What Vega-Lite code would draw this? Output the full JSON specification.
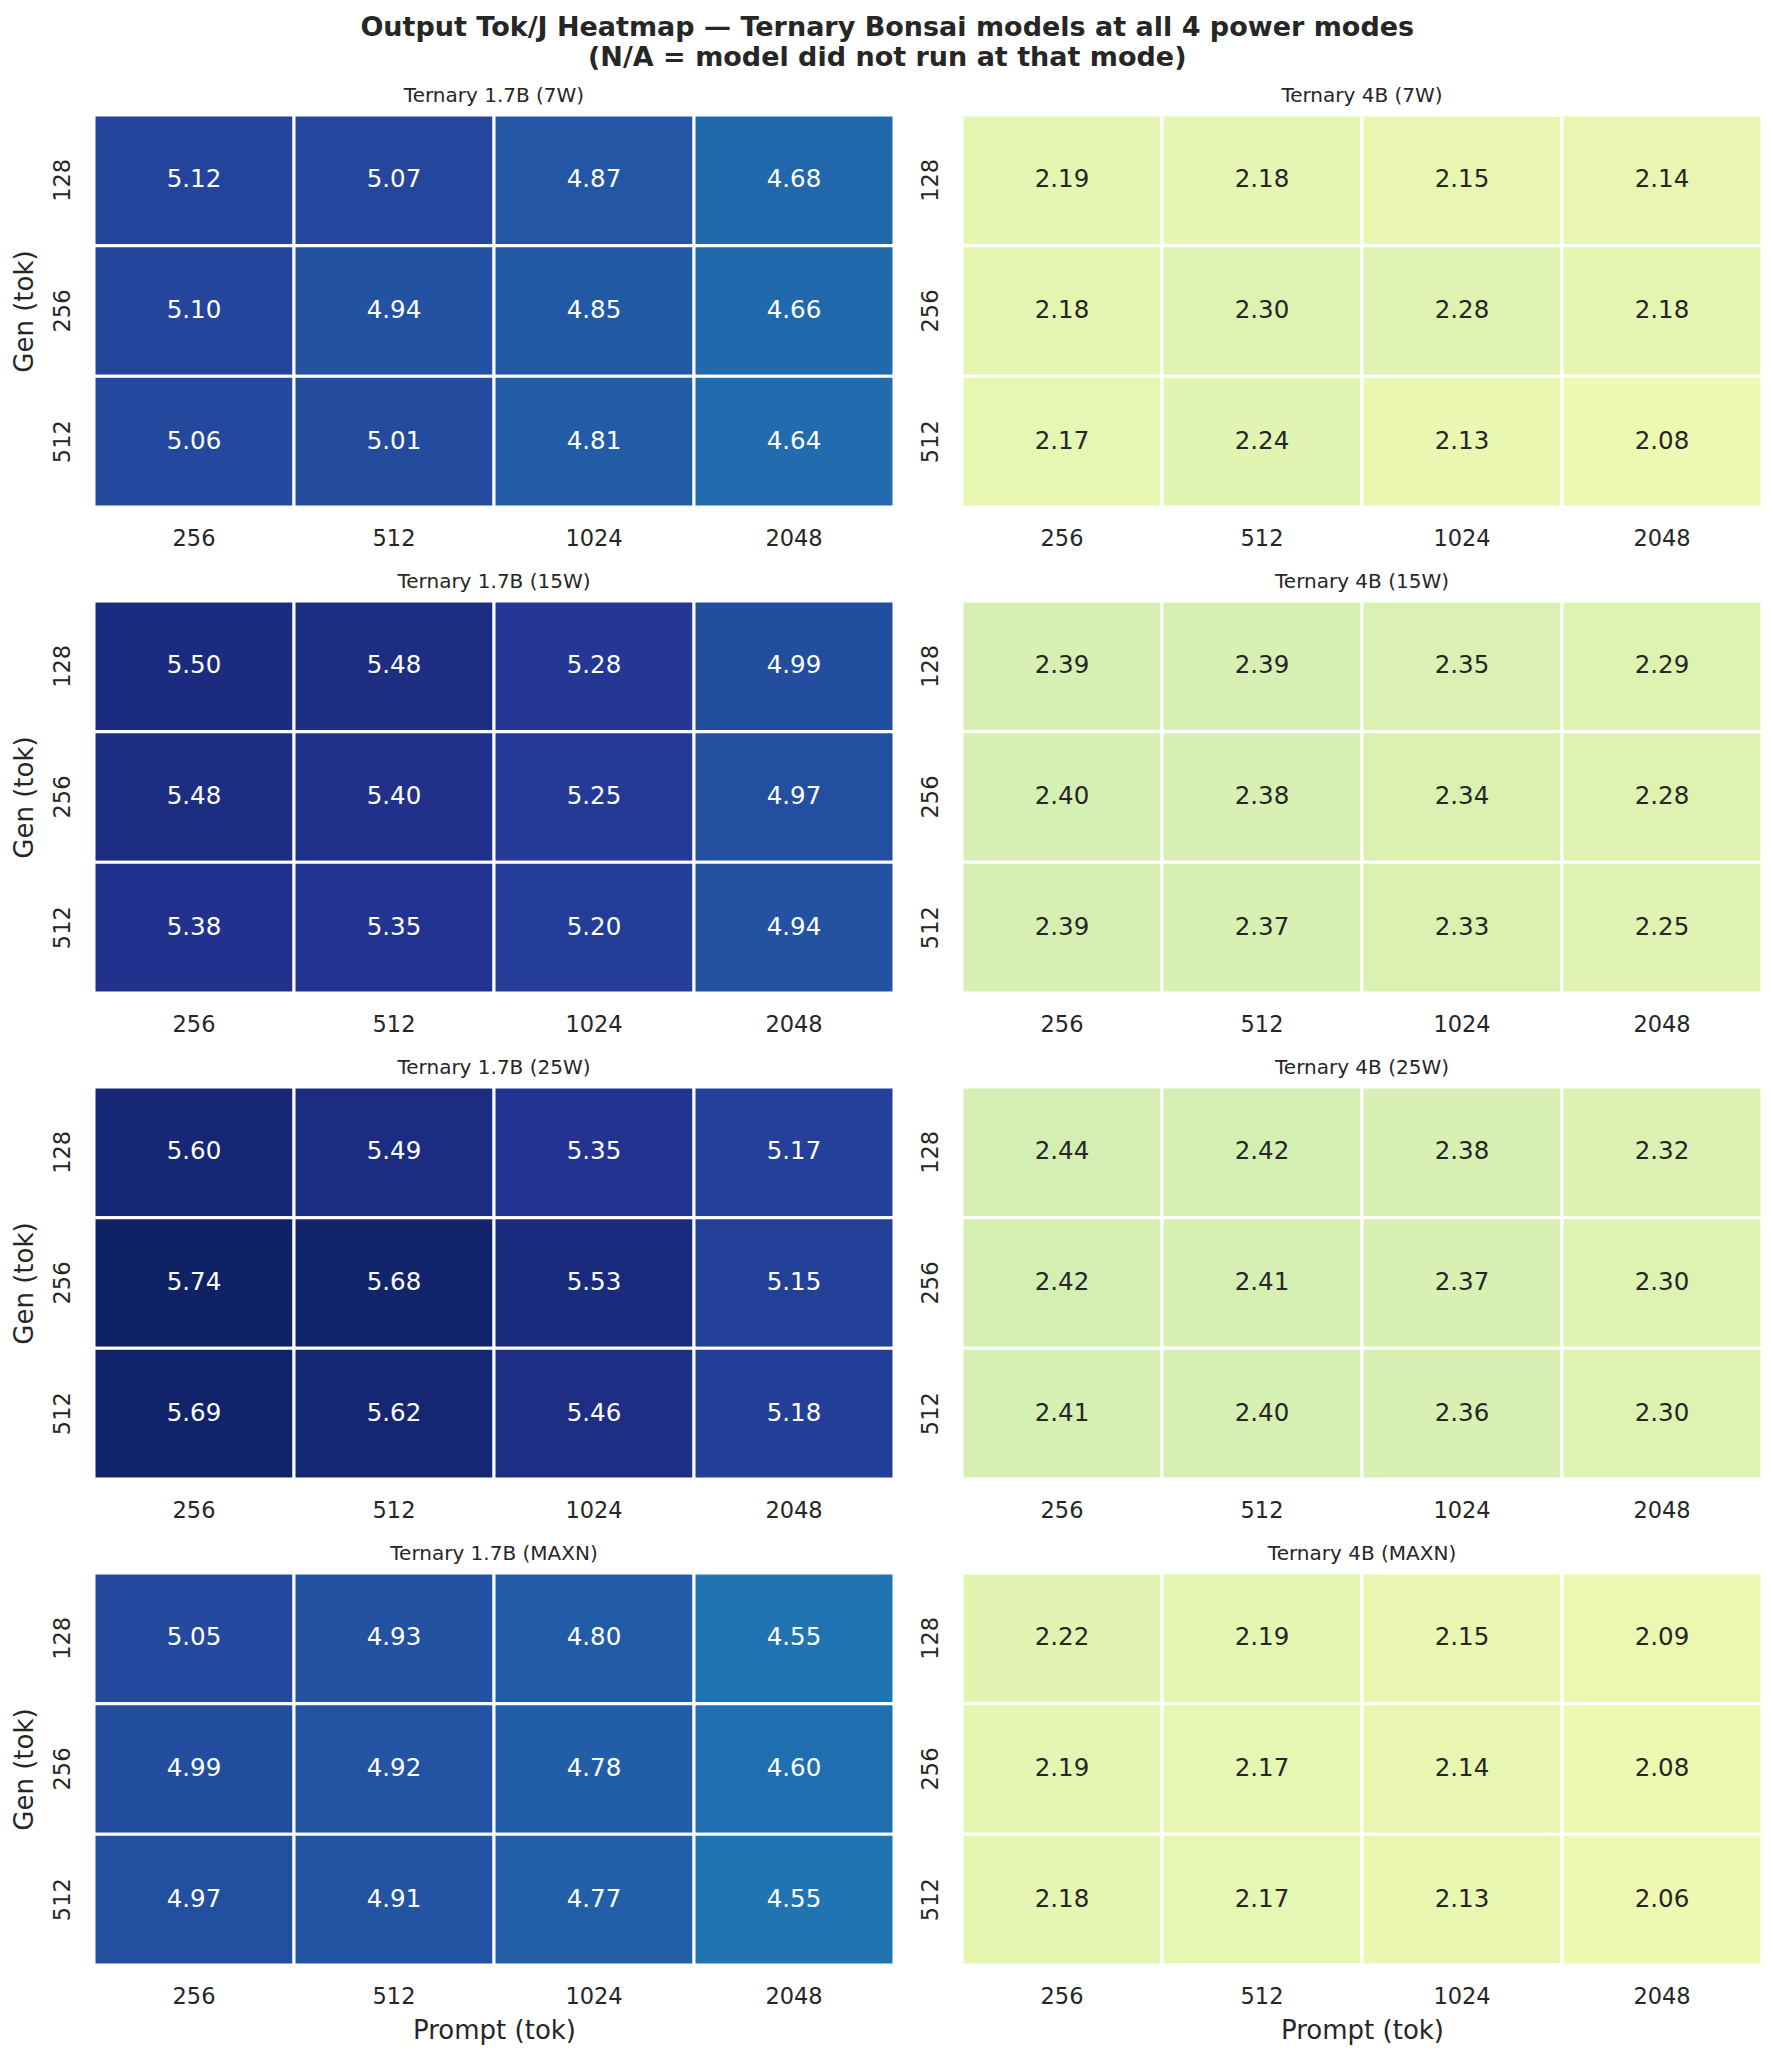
{
  "$schema": "https://vega.github.io/schema/vega-lite/v6.json",
  "background": "white",
  "padding": {"left": 11, "top": 13, "right": 10, "bottom": 10},
  "title": {
    "text": ["Output Tok/J Heatmap — Ternary Bonsai models at all 4 power modes", "(N/A = model did not run at that mode)"],
    "fontSize": 27,
    "fontWeight": "bold",
    "lineHeight": 30,
    "anchor": "middle",
    "offset": 14,
    "color": "#262626"
  },
  "data": {
    "values": [
      {"panel": "Ternary 1.7B (7W)", "gen": 128, "prompt": 256, "tpj": 5.12},
      {"panel": "Ternary 1.7B (7W)", "gen": 128, "prompt": 512, "tpj": 5.07},
      {"panel": "Ternary 1.7B (7W)", "gen": 128, "prompt": 1024, "tpj": 4.87},
      {"panel": "Ternary 1.7B (7W)", "gen": 128, "prompt": 2048, "tpj": 4.68},
      {"panel": "Ternary 1.7B (7W)", "gen": 256, "prompt": 256, "tpj": 5.10},
      {"panel": "Ternary 1.7B (7W)", "gen": 256, "prompt": 512, "tpj": 4.94},
      {"panel": "Ternary 1.7B (7W)", "gen": 256, "prompt": 1024, "tpj": 4.85},
      {"panel": "Ternary 1.7B (7W)", "gen": 256, "prompt": 2048, "tpj": 4.66},
      {"panel": "Ternary 1.7B (7W)", "gen": 512, "prompt": 256, "tpj": 5.06},
      {"panel": "Ternary 1.7B (7W)", "gen": 512, "prompt": 512, "tpj": 5.01},
      {"panel": "Ternary 1.7B (7W)", "gen": 512, "prompt": 1024, "tpj": 4.81},
      {"panel": "Ternary 1.7B (7W)", "gen": 512, "prompt": 2048, "tpj": 4.64},
      {"panel": "Ternary 4B (7W)", "gen": 128, "prompt": 256, "tpj": 2.19},
      {"panel": "Ternary 4B (7W)", "gen": 128, "prompt": 512, "tpj": 2.18},
      {"panel": "Ternary 4B (7W)", "gen": 128, "prompt": 1024, "tpj": 2.15},
      {"panel": "Ternary 4B (7W)", "gen": 128, "prompt": 2048, "tpj": 2.14},
      {"panel": "Ternary 4B (7W)", "gen": 256, "prompt": 256, "tpj": 2.18},
      {"panel": "Ternary 4B (7W)", "gen": 256, "prompt": 512, "tpj": 2.30},
      {"panel": "Ternary 4B (7W)", "gen": 256, "prompt": 1024, "tpj": 2.28},
      {"panel": "Ternary 4B (7W)", "gen": 256, "prompt": 2048, "tpj": 2.18},
      {"panel": "Ternary 4B (7W)", "gen": 512, "prompt": 256, "tpj": 2.17},
      {"panel": "Ternary 4B (7W)", "gen": 512, "prompt": 512, "tpj": 2.24},
      {"panel": "Ternary 4B (7W)", "gen": 512, "prompt": 1024, "tpj": 2.13},
      {"panel": "Ternary 4B (7W)", "gen": 512, "prompt": 2048, "tpj": 2.08},
      {"panel": "Ternary 1.7B (15W)", "gen": 128, "prompt": 256, "tpj": 5.50},
      {"panel": "Ternary 1.7B (15W)", "gen": 128, "prompt": 512, "tpj": 5.48},
      {"panel": "Ternary 1.7B (15W)", "gen": 128, "prompt": 1024, "tpj": 5.28},
      {"panel": "Ternary 1.7B (15W)", "gen": 128, "prompt": 2048, "tpj": 4.99},
      {"panel": "Ternary 1.7B (15W)", "gen": 256, "prompt": 256, "tpj": 5.48},
      {"panel": "Ternary 1.7B (15W)", "gen": 256, "prompt": 512, "tpj": 5.40},
      {"panel": "Ternary 1.7B (15W)", "gen": 256, "prompt": 1024, "tpj": 5.25},
      {"panel": "Ternary 1.7B (15W)", "gen": 256, "prompt": 2048, "tpj": 4.97},
      {"panel": "Ternary 1.7B (15W)", "gen": 512, "prompt": 256, "tpj": 5.38},
      {"panel": "Ternary 1.7B (15W)", "gen": 512, "prompt": 512, "tpj": 5.35},
      {"panel": "Ternary 1.7B (15W)", "gen": 512, "prompt": 1024, "tpj": 5.20},
      {"panel": "Ternary 1.7B (15W)", "gen": 512, "prompt": 2048, "tpj": 4.94},
      {"panel": "Ternary 4B (15W)", "gen": 128, "prompt": 256, "tpj": 2.39},
      {"panel": "Ternary 4B (15W)", "gen": 128, "prompt": 512, "tpj": 2.39},
      {"panel": "Ternary 4B (15W)", "gen": 128, "prompt": 1024, "tpj": 2.35},
      {"panel": "Ternary 4B (15W)", "gen": 128, "prompt": 2048, "tpj": 2.29},
      {"panel": "Ternary 4B (15W)", "gen": 256, "prompt": 256, "tpj": 2.40},
      {"panel": "Ternary 4B (15W)", "gen": 256, "prompt": 512, "tpj": 2.38},
      {"panel": "Ternary 4B (15W)", "gen": 256, "prompt": 1024, "tpj": 2.34},
      {"panel": "Ternary 4B (15W)", "gen": 256, "prompt": 2048, "tpj": 2.28},
      {"panel": "Ternary 4B (15W)", "gen": 512, "prompt": 256, "tpj": 2.39},
      {"panel": "Ternary 4B (15W)", "gen": 512, "prompt": 512, "tpj": 2.37},
      {"panel": "Ternary 4B (15W)", "gen": 512, "prompt": 1024, "tpj": 2.33},
      {"panel": "Ternary 4B (15W)", "gen": 512, "prompt": 2048, "tpj": 2.25},
      {"panel": "Ternary 1.7B (25W)", "gen": 128, "prompt": 256, "tpj": 5.60},
      {"panel": "Ternary 1.7B (25W)", "gen": 128, "prompt": 512, "tpj": 5.49},
      {"panel": "Ternary 1.7B (25W)", "gen": 128, "prompt": 1024, "tpj": 5.35},
      {"panel": "Ternary 1.7B (25W)", "gen": 128, "prompt": 2048, "tpj": 5.17},
      {"panel": "Ternary 1.7B (25W)", "gen": 256, "prompt": 256, "tpj": 5.74},
      {"panel": "Ternary 1.7B (25W)", "gen": 256, "prompt": 512, "tpj": 5.68},
      {"panel": "Ternary 1.7B (25W)", "gen": 256, "prompt": 1024, "tpj": 5.53},
      {"panel": "Ternary 1.7B (25W)", "gen": 256, "prompt": 2048, "tpj": 5.15},
      {"panel": "Ternary 1.7B (25W)", "gen": 512, "prompt": 256, "tpj": 5.69},
      {"panel": "Ternary 1.7B (25W)", "gen": 512, "prompt": 512, "tpj": 5.62},
      {"panel": "Ternary 1.7B (25W)", "gen": 512, "prompt": 1024, "tpj": 5.46},
      {"panel": "Ternary 1.7B (25W)", "gen": 512, "prompt": 2048, "tpj": 5.18},
      {"panel": "Ternary 4B (25W)", "gen": 128, "prompt": 256, "tpj": 2.44},
      {"panel": "Ternary 4B (25W)", "gen": 128, "prompt": 512, "tpj": 2.42},
      {"panel": "Ternary 4B (25W)", "gen": 128, "prompt": 1024, "tpj": 2.38},
      {"panel": "Ternary 4B (25W)", "gen": 128, "prompt": 2048, "tpj": 2.32},
      {"panel": "Ternary 4B (25W)", "gen": 256, "prompt": 256, "tpj": 2.42},
      {"panel": "Ternary 4B (25W)", "gen": 256, "prompt": 512, "tpj": 2.41},
      {"panel": "Ternary 4B (25W)", "gen": 256, "prompt": 1024, "tpj": 2.37},
      {"panel": "Ternary 4B (25W)", "gen": 256, "prompt": 2048, "tpj": 2.30},
      {"panel": "Ternary 4B (25W)", "gen": 512, "prompt": 256, "tpj": 2.41},
      {"panel": "Ternary 4B (25W)", "gen": 512, "prompt": 512, "tpj": 2.40},
      {"panel": "Ternary 4B (25W)", "gen": 512, "prompt": 1024, "tpj": 2.36},
      {"panel": "Ternary 4B (25W)", "gen": 512, "prompt": 2048, "tpj": 2.30},
      {"panel": "Ternary 1.7B (MAXN)", "gen": 128, "prompt": 256, "tpj": 5.05},
      {"panel": "Ternary 1.7B (MAXN)", "gen": 128, "prompt": 512, "tpj": 4.93},
      {"panel": "Ternary 1.7B (MAXN)", "gen": 128, "prompt": 1024, "tpj": 4.80},
      {"panel": "Ternary 1.7B (MAXN)", "gen": 128, "prompt": 2048, "tpj": 4.55},
      {"panel": "Ternary 1.7B (MAXN)", "gen": 256, "prompt": 256, "tpj": 4.99},
      {"panel": "Ternary 1.7B (MAXN)", "gen": 256, "prompt": 512, "tpj": 4.92},
      {"panel": "Ternary 1.7B (MAXN)", "gen": 256, "prompt": 1024, "tpj": 4.78},
      {"panel": "Ternary 1.7B (MAXN)", "gen": 256, "prompt": 2048, "tpj": 4.60},
      {"panel": "Ternary 1.7B (MAXN)", "gen": 512, "prompt": 256, "tpj": 4.97},
      {"panel": "Ternary 1.7B (MAXN)", "gen": 512, "prompt": 512, "tpj": 4.91},
      {"panel": "Ternary 1.7B (MAXN)", "gen": 512, "prompt": 1024, "tpj": 4.77},
      {"panel": "Ternary 1.7B (MAXN)", "gen": 512, "prompt": 2048, "tpj": 4.55},
      {"panel": "Ternary 4B (MAXN)", "gen": 128, "prompt": 256, "tpj": 2.22},
      {"panel": "Ternary 4B (MAXN)", "gen": 128, "prompt": 512, "tpj": 2.19},
      {"panel": "Ternary 4B (MAXN)", "gen": 128, "prompt": 1024, "tpj": 2.15},
      {"panel": "Ternary 4B (MAXN)", "gen": 128, "prompt": 2048, "tpj": 2.09},
      {"panel": "Ternary 4B (MAXN)", "gen": 256, "prompt": 256, "tpj": 2.19},
      {"panel": "Ternary 4B (MAXN)", "gen": 256, "prompt": 512, "tpj": 2.17},
      {"panel": "Ternary 4B (MAXN)", "gen": 256, "prompt": 1024, "tpj": 2.14},
      {"panel": "Ternary 4B (MAXN)", "gen": 256, "prompt": 2048, "tpj": 2.08},
      {"panel": "Ternary 4B (MAXN)", "gen": 512, "prompt": 256, "tpj": 2.18},
      {"panel": "Ternary 4B (MAXN)", "gen": 512, "prompt": 512, "tpj": 2.17},
      {"panel": "Ternary 4B (MAXN)", "gen": 512, "prompt": 1024, "tpj": 2.13},
      {"panel": "Ternary 4B (MAXN)", "gen": 512, "prompt": 2048, "tpj": 2.06}
    ]
  },
  "columns": 2,
  "spacing": {"row": 21, "column": 23},
  "concat": [
    {
      "title": "Ternary 1.7B (7W)",
      "width": 800, "height": 392,
      "transform": [{"filter": "datum.panel === 'Ternary 1.7B (7W)'"}],
      "encoding": {
        "x": {"field": "prompt", "type": "ordinal", "sort": [256, 512, 1024, 2048], "axis": {"title": null}},
        "y": {"field": "gen", "type": "ordinal", "sort": [128, 256, 512], "axis": {"title": "Gen (tok)"}}
      },
      "layer": [
        {"mark": {"type": "rect", "stroke": "white", "strokeWidth": 3},
         "encoding": {"color": {"field": "tpj", "type": "quantitative", "legend": null,
           "scale": {"domain": [1.54, 2.08, 2.62, 3.16, 3.70, 4.24, 4.78, 5.32, 5.86], "range": ["#ffffd9", "#edf8b1", "#c7e9b4", "#7fcdbb", "#41b6c4", "#1d91c0", "#225ea8", "#253494", "#081d58"], "interpolate": "rgb", "clamp": true}}}},
        {"mark": {"type": "text", "fontSize": 24.5},
         "encoding": {"text": {"field": "tpj", "type": "quantitative", "format": ".2f"},
           "color": {"condition": {"test": "datum.tpj > 3.5", "value": "white"}, "value": "#262626"}}}
      ]
    },
    {
      "title": "Ternary 4B (7W)",
      "width": 800, "height": 392,
      "transform": [{"filter": "datum.panel === 'Ternary 4B (7W)'"}],
      "encoding": {
        "x": {"field": "prompt", "type": "ordinal", "sort": [256, 512, 1024, 2048], "axis": {"title": null}},
        "y": {"field": "gen", "type": "ordinal", "sort": [128, 256, 512], "axis": {"title": null}}
      },
      "layer": [
        {"mark": {"type": "rect", "stroke": "white", "strokeWidth": 3},
         "encoding": {"color": {"field": "tpj", "type": "quantitative", "legend": null,
           "scale": {"domain": [1.54, 2.08, 2.62, 3.16, 3.70, 4.24, 4.78, 5.32, 5.86], "range": ["#ffffd9", "#edf8b1", "#c7e9b4", "#7fcdbb", "#41b6c4", "#1d91c0", "#225ea8", "#253494", "#081d58"], "interpolate": "rgb", "clamp": true}}}},
        {"mark": {"type": "text", "fontSize": 24.5},
         "encoding": {"text": {"field": "tpj", "type": "quantitative", "format": ".2f"},
           "color": {"condition": {"test": "datum.tpj > 3.5", "value": "white"}, "value": "#262626"}}}
      ]
    },
    {
      "title": "Ternary 1.7B (15W)",
      "width": 800, "height": 392,
      "transform": [{"filter": "datum.panel === 'Ternary 1.7B (15W)'"}],
      "encoding": {
        "x": {"field": "prompt", "type": "ordinal", "sort": [256, 512, 1024, 2048], "axis": {"title": null}},
        "y": {"field": "gen", "type": "ordinal", "sort": [128, 256, 512], "axis": {"title": "Gen (tok)"}}
      },
      "layer": [
        {"mark": {"type": "rect", "stroke": "white", "strokeWidth": 3},
         "encoding": {"color": {"field": "tpj", "type": "quantitative", "legend": null,
           "scale": {"domain": [1.54, 2.08, 2.62, 3.16, 3.70, 4.24, 4.78, 5.32, 5.86], "range": ["#ffffd9", "#edf8b1", "#c7e9b4", "#7fcdbb", "#41b6c4", "#1d91c0", "#225ea8", "#253494", "#081d58"], "interpolate": "rgb", "clamp": true}}}},
        {"mark": {"type": "text", "fontSize": 24.5},
         "encoding": {"text": {"field": "tpj", "type": "quantitative", "format": ".2f"},
           "color": {"condition": {"test": "datum.tpj > 3.5", "value": "white"}, "value": "#262626"}}}
      ]
    },
    {
      "title": "Ternary 4B (15W)",
      "width": 800, "height": 392,
      "transform": [{"filter": "datum.panel === 'Ternary 4B (15W)'"}],
      "encoding": {
        "x": {"field": "prompt", "type": "ordinal", "sort": [256, 512, 1024, 2048], "axis": {"title": null}},
        "y": {"field": "gen", "type": "ordinal", "sort": [128, 256, 512], "axis": {"title": null}}
      },
      "layer": [
        {"mark": {"type": "rect", "stroke": "white", "strokeWidth": 3},
         "encoding": {"color": {"field": "tpj", "type": "quantitative", "legend": null,
           "scale": {"domain": [1.54, 2.08, 2.62, 3.16, 3.70, 4.24, 4.78, 5.32, 5.86], "range": ["#ffffd9", "#edf8b1", "#c7e9b4", "#7fcdbb", "#41b6c4", "#1d91c0", "#225ea8", "#253494", "#081d58"], "interpolate": "rgb", "clamp": true}}}},
        {"mark": {"type": "text", "fontSize": 24.5},
         "encoding": {"text": {"field": "tpj", "type": "quantitative", "format": ".2f"},
           "color": {"condition": {"test": "datum.tpj > 3.5", "value": "white"}, "value": "#262626"}}}
      ]
    },
    {
      "title": "Ternary 1.7B (25W)",
      "width": 800, "height": 392,
      "transform": [{"filter": "datum.panel === 'Ternary 1.7B (25W)'"}],
      "encoding": {
        "x": {"field": "prompt", "type": "ordinal", "sort": [256, 512, 1024, 2048], "axis": {"title": null}},
        "y": {"field": "gen", "type": "ordinal", "sort": [128, 256, 512], "axis": {"title": "Gen (tok)"}}
      },
      "layer": [
        {"mark": {"type": "rect", "stroke": "white", "strokeWidth": 3},
         "encoding": {"color": {"field": "tpj", "type": "quantitative", "legend": null,
           "scale": {"domain": [1.54, 2.08, 2.62, 3.16, 3.70, 4.24, 4.78, 5.32, 5.86], "range": ["#ffffd9", "#edf8b1", "#c7e9b4", "#7fcdbb", "#41b6c4", "#1d91c0", "#225ea8", "#253494", "#081d58"], "interpolate": "rgb", "clamp": true}}}},
        {"mark": {"type": "text", "fontSize": 24.5},
         "encoding": {"text": {"field": "tpj", "type": "quantitative", "format": ".2f"},
           "color": {"condition": {"test": "datum.tpj > 3.5", "value": "white"}, "value": "#262626"}}}
      ]
    },
    {
      "title": "Ternary 4B (25W)",
      "width": 800, "height": 392,
      "transform": [{"filter": "datum.panel === 'Ternary 4B (25W)'"}],
      "encoding": {
        "x": {"field": "prompt", "type": "ordinal", "sort": [256, 512, 1024, 2048], "axis": {"title": null}},
        "y": {"field": "gen", "type": "ordinal", "sort": [128, 256, 512], "axis": {"title": null}}
      },
      "layer": [
        {"mark": {"type": "rect", "stroke": "white", "strokeWidth": 3},
         "encoding": {"color": {"field": "tpj", "type": "quantitative", "legend": null,
           "scale": {"domain": [1.54, 2.08, 2.62, 3.16, 3.70, 4.24, 4.78, 5.32, 5.86], "range": ["#ffffd9", "#edf8b1", "#c7e9b4", "#7fcdbb", "#41b6c4", "#1d91c0", "#225ea8", "#253494", "#081d58"], "interpolate": "rgb", "clamp": true}}}},
        {"mark": {"type": "text", "fontSize": 24.5},
         "encoding": {"text": {"field": "tpj", "type": "quantitative", "format": ".2f"},
           "color": {"condition": {"test": "datum.tpj > 3.5", "value": "white"}, "value": "#262626"}}}
      ]
    },
    {
      "title": "Ternary 1.7B (MAXN)",
      "width": 800, "height": 392,
      "transform": [{"filter": "datum.panel === 'Ternary 1.7B (MAXN)'"}],
      "encoding": {
        "x": {"field": "prompt", "type": "ordinal", "sort": [256, 512, 1024, 2048], "axis": {"title": "Prompt (tok)"}},
        "y": {"field": "gen", "type": "ordinal", "sort": [128, 256, 512], "axis": {"title": "Gen (tok)"}}
      },
      "layer": [
        {"mark": {"type": "rect", "stroke": "white", "strokeWidth": 3},
         "encoding": {"color": {"field": "tpj", "type": "quantitative", "legend": null,
           "scale": {"domain": [1.54, 2.08, 2.62, 3.16, 3.70, 4.24, 4.78, 5.32, 5.86], "range": ["#ffffd9", "#edf8b1", "#c7e9b4", "#7fcdbb", "#41b6c4", "#1d91c0", "#225ea8", "#253494", "#081d58"], "interpolate": "rgb", "clamp": true}}}},
        {"mark": {"type": "text", "fontSize": 24.5},
         "encoding": {"text": {"field": "tpj", "type": "quantitative", "format": ".2f"},
           "color": {"condition": {"test": "datum.tpj > 3.5", "value": "white"}, "value": "#262626"}}}
      ]
    },
    {
      "title": "Ternary 4B (MAXN)",
      "width": 800, "height": 392,
      "transform": [{"filter": "datum.panel === 'Ternary 4B (MAXN)'"}],
      "encoding": {
        "x": {"field": "prompt", "type": "ordinal", "sort": [256, 512, 1024, 2048], "axis": {"title": "Prompt (tok)"}},
        "y": {"field": "gen", "type": "ordinal", "sort": [128, 256, 512], "axis": {"title": null}}
      },
      "layer": [
        {"mark": {"type": "rect", "stroke": "white", "strokeWidth": 3},
         "encoding": {"color": {"field": "tpj", "type": "quantitative", "legend": null,
           "scale": {"domain": [1.54, 2.08, 2.62, 3.16, 3.70, 4.24, 4.78, 5.32, 5.86], "range": ["#ffffd9", "#edf8b1", "#c7e9b4", "#7fcdbb", "#41b6c4", "#1d91c0", "#225ea8", "#253494", "#081d58"], "interpolate": "rgb", "clamp": true}}}},
        {"mark": {"type": "text", "fontSize": 24.5},
         "encoding": {"text": {"field": "tpj", "type": "quantitative", "format": ".2f"},
           "color": {"condition": {"test": "datum.tpj > 3.5", "value": "white"}, "value": "#262626"}}}
      ]
    }
  ],
  "config": {
    "font": "DejaVu Sans",
    "view": {"stroke": null},
    "axis": {
      "domain": false,
      "ticks": false,
      "grid": false,
      "labelFontSize": 22.5,
      "labelColor": "#262626",
      "titleFontSize": 26,
      "titleFontWeight": "normal",
      "titleColor": "#262626"
    },
    "axisX": {"labelAngle": 0, "labelPadding": 20, "titlePadding": 10},
    "axisY": {"labelAngle": 270, "labelAlign": "center", "labelBaseline": "alphabetic", "labelPadding": 25, "titlePadding": 14},
    "title": {"fontSize": 20, "fontWeight": "normal", "color": "#262626", "offset": 8}
  }
}
